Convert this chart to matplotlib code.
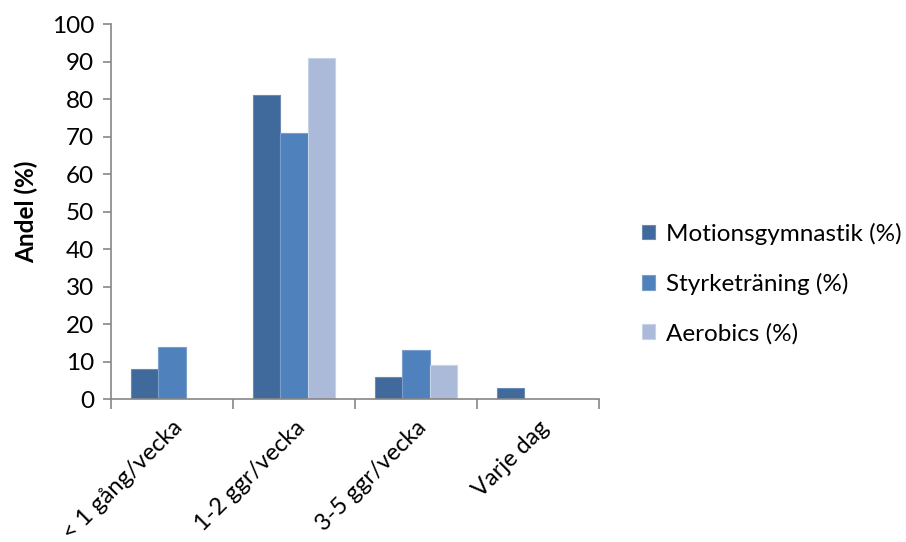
import matplotlib
matplotlib.use("Agg")
import matplotlib.pyplot as plt
import numpy as np
from matplotlib.patches import Patch

categories = ["< 1 gång/vecka", "1-2 ggr/vecka", "3-5 ggr/vecka", "Varje dag"]
series_names = ["Motionsgymnastik (%)", "Styrketräning (%)", "Aerobics (%)"]
motionsgymnastik = [8, 81, 6, 3]
styrketraning = [14, 71, 13, 0]
aerobics = [0, 91, 9, 0]
y_ticks = list(range(0, 101, 10))

colors = ["#40699C", "#4F81BD", "#AABAD8"]
edges = ["#6A8BB5", "#7B9FCC", "#C6D2E6"]

plt.rcParams["font.family"] = ["Lato", "DejaVu Sans"]
fs = 17.5

fig = plt.figure(figsize=(9.06, 5.42), dpi=100)
ax = fig.add_axes([0.1225, 0.2638, 0.5386, 0.6919])

x = np.arange(len(categories))
width = 1 / 4.5
values = [motionsgymnastik, styrketraning, aerobics]
for i, (vals, c, e) in enumerate(zip(values, colors, edges)):
    ax.bar(x + (i - 1) * width, vals, width, color=c, edgecolor=e, linewidth=0.8)

ax.set_xlim(-0.5, len(categories) - 0.5)
ax.set_ylim(0, 100)
ax.set_yticks(y_ticks)
ax.set_yticklabels([str(t) for t in y_ticks])
ax.set_xticks(np.arange(len(categories) + 1) - 0.5)
ax.set_xticklabels([])
ax.set_xticks(x, minor=True)
ax.set_xticklabels(categories, minor=True, rotation=45, ha="right", va="top",
                   rotation_mode="anchor", fontsize=17)

axis_gray = "#868686"
for s in ["top", "right"]:
    ax.spines[s].set_visible(False)
for s in ["left", "bottom"]:
    ax.spines[s].set_color(axis_gray)
    ax.spines[s].set_linewidth(1.2)
ax.tick_params(axis="y", which="major", length=6, width=1.2, color=axis_gray,
               labelsize=fs, pad=6)
ax.tick_params(axis="x", which="major", length=7, width=1.2, color=axis_gray)
ax.tick_params(axis="x", which="minor", length=0, pad=13)

ax.set_ylabel("Andel (%)", fontsize=fs, fontweight="bold", labelpad=10)

handles = [Patch(facecolor=c, edgecolor=e, linewidth=0.8) for c, e in zip(colors, edges)]
fig.legend(handles, series_names, loc="center left", bbox_to_anchor=(0.684, 0.477),
           frameon=False, fontsize=fs, handlelength=0.55, handleheight=0.55,
           handletextpad=0.45, labelspacing=1.15)

fig.savefig("out.png", dpi=100)
